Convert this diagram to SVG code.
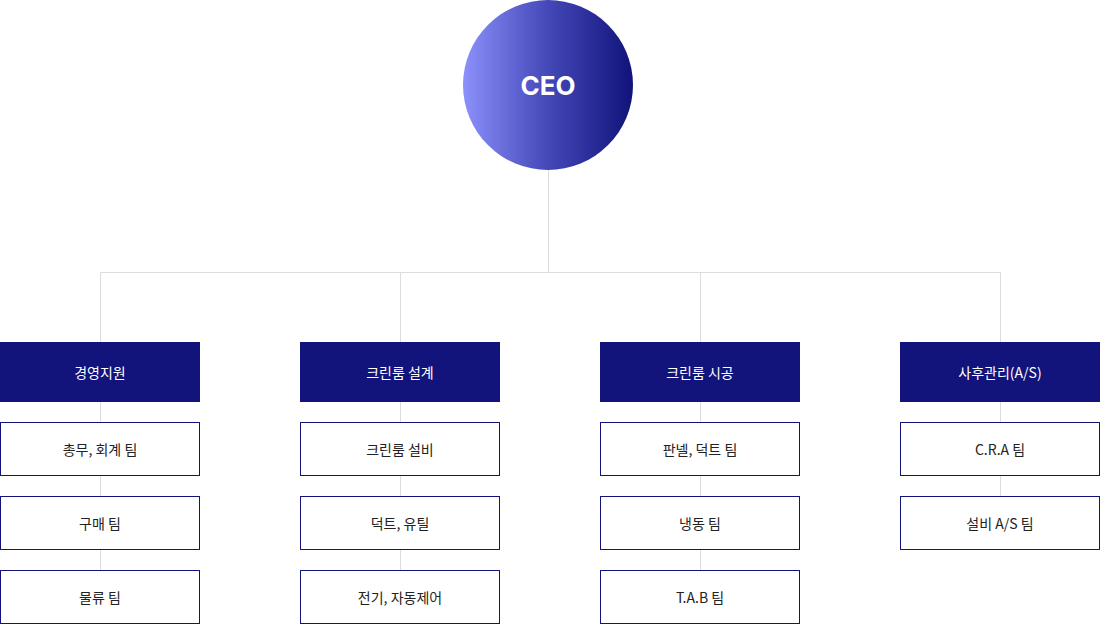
<svg xmlns="http://www.w3.org/2000/svg" width="1100" height="624" viewBox="0 0 1100 624">
<defs>
<linearGradient id="ceoGrad" x1="0" y1="0" x2="1" y2="0">
<stop offset="0" stop-color="#8c90fb"/>
<stop offset="0.5" stop-color="#4448b8"/>
<stop offset="1" stop-color="#11137a"/>
</linearGradient>
<style>
.line{stroke:#dddddd;stroke-width:1;fill:none}
.head{fill:#12137b}
.child{fill:#ffffff;stroke:#12137b;stroke-width:1}
.ht{fill:#ffffff;font-family:"Noto Sans CJK KR","Noto Sans",sans-serif;font-size:14px;text-anchor:middle;dominant-baseline:central}
.ct{fill:#222222;font-family:"Noto Sans CJK KR","Noto Sans",sans-serif;font-size:14px;text-anchor:middle;dominant-baseline:central}
.ceo{fill:#ffffff;font-family:"Inter","Noto Sans",sans-serif;font-size:26px;font-weight:700;text-anchor:middle;dominant-baseline:central}
</style>
</defs>
<rect width="1100" height="624" fill="#ffffff"/>
<g id="connectors">
<path class="line" d="M548.5 170V272.5M100.5 272.5H1000.5M100.5 272.5V342M400.5 272.5V342M700.5 272.5V342M1000.5 272.5V342"/>
<path class="line" d="M100.5 402V570M400.5 402V570M700.5 402V570M1000.5 402V496"/>
</g>
<g id="ceo">
<circle cx="548" cy="85" r="85" fill="url(#ceoGrad)"/>
<text class="ceo" x="548" y="85">CEO</text>
</g>
<g id="dept1">
<rect class="head" x="0" y="342" width="200" height="60"/>
<text class="ht" x="100" y="372">경영지원</text>
</g>
<g id="dept1-1"><rect class="child" x="0.5" y="422.5" width="199" height="53"/><text class="ct" x="100" y="449">총무, 회계 팀</text></g>
<g id="dept1-2"><rect class="child" x="0.5" y="496.5" width="199" height="53"/><text class="ct" x="100" y="523">구매 팀</text></g>
<g id="dept1-3"><rect class="child" x="0.5" y="570.5" width="199" height="53"/><text class="ct" x="100" y="597">물류 팀</text></g>
<g id="dept2">
<rect class="head" x="300" y="342" width="200" height="60"/>
<text class="ht" x="400" y="372">크린룸 설계</text>
</g>
<g id="dept2-1"><rect class="child" x="300.5" y="422.5" width="199" height="53"/><text class="ct" x="400" y="449">크린룸 설비</text></g>
<g id="dept2-2"><rect class="child" x="300.5" y="496.5" width="199" height="53"/><text class="ct" x="400" y="523">덕트, 유틸</text></g>
<g id="dept2-3"><rect class="child" x="300.5" y="570.5" width="199" height="53"/><text class="ct" x="400" y="597">전기, 자동제어</text></g>
<g id="dept3">
<rect class="head" x="600" y="342" width="200" height="60"/>
<text class="ht" x="700" y="372">크린룸 시공</text>
</g>
<g id="dept3-1"><rect class="child" x="600.5" y="422.5" width="199" height="53"/><text class="ct" x="700" y="449">판넬, 덕트 팀</text></g>
<g id="dept3-2"><rect class="child" x="600.5" y="496.5" width="199" height="53"/><text class="ct" x="700" y="523">냉동 팀</text></g>
<g id="dept3-3"><rect class="child" x="600.5" y="570.5" width="199" height="53"/><text class="ct" x="700" y="597">T.A.B 팀</text></g>
<g id="dept4">
<rect class="head" x="900" y="342" width="200" height="60"/>
<text class="ht" x="1000" y="372">사후관리(A/S)</text>
</g>
<g id="dept4-1"><rect class="child" x="900.5" y="422.5" width="199" height="53"/><text class="ct" x="1000" y="449">C.R.A 팀</text></g>
<g id="dept4-2"><rect class="child" x="900.5" y="496.5" width="199" height="53"/><text class="ct" x="1000" y="523">설비 A/S 팀</text></g>
</svg>
